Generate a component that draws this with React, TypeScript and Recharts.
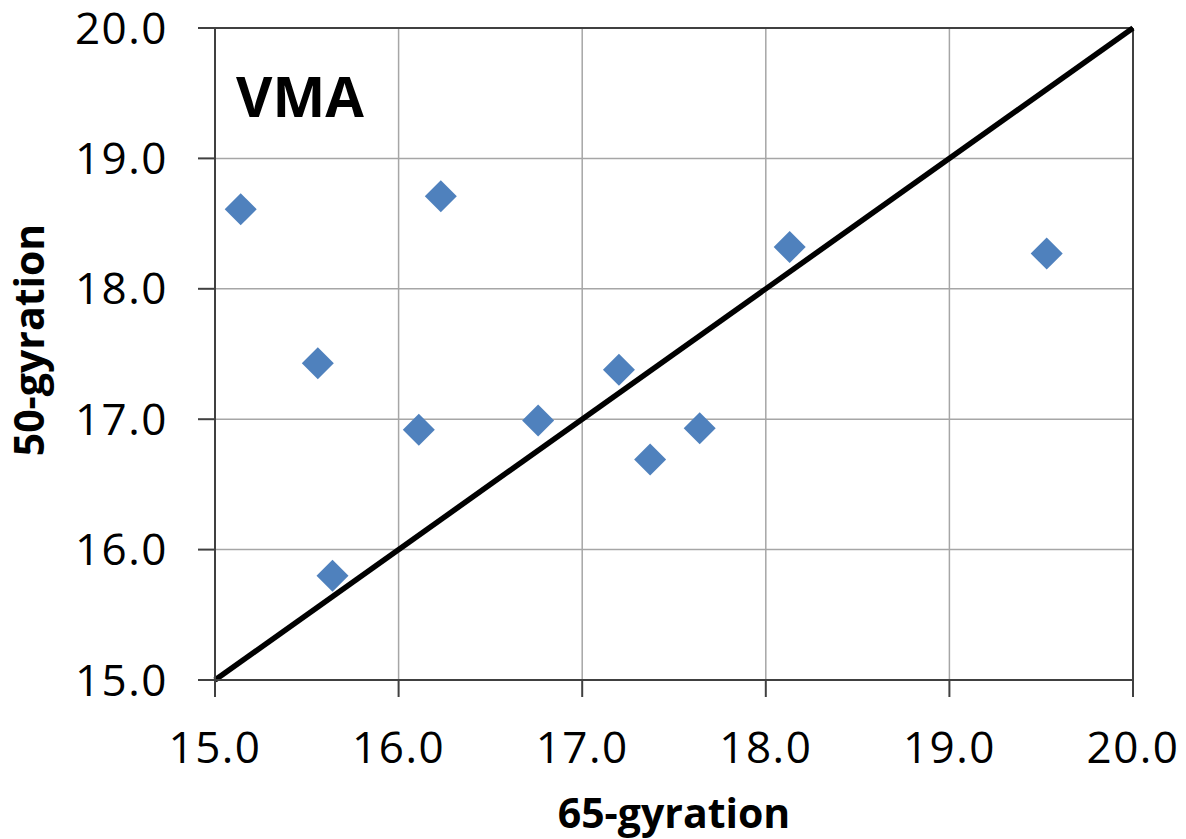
import {
  ScatterChart, Scatter, XAxis, YAxis, CartesianGrid, ReferenceLine, Label,
} from 'recharts';

const gyr65 = [15.14, 16.23, 15.56, 15.64, 16.11, 16.76, 17.2, 17.37, 17.64, 18.13, 19.53];
const gyr50 = [18.61, 18.71, 17.43, 15.8, 16.92, 16.99, 17.38, 16.69, 16.93, 18.32, 18.27];
const ticks = [15, 16, 17, 18, 19, 20];

const points = gyr65.map((x, i) => ({ x, y: gyr50[i] }));

const FONT = '"Open Sans", sans-serif';
const AXIS = '#404040';

function Diamond(props: any) {
  const { cx, cy } = props;
  const r = 16;
  return <polygon points={`${cx},${cy - r} ${cx + r},${cy} ${cx},${cy + r} ${cx - r},${cy}`} fill="#4F81BD" />;
}

export default function App() {
  const tick = { fill: '#000', fontSize: 44, fontFamily: FONT, letterSpacing: 1.5 };
  const title = { fontSize: 41, fontWeight: 700, fontFamily: FONT, fill: '#000' };
  return (
    <div style={{ position: 'absolute', left: 0, top: 0, width: 1186, height: 839, background: '#fff', fontFamily: FONT }}>
      <ScatterChart width={1186} height={839} margin={{ top: 28, right: 53, bottom: 0, left: 0 }}>
        <CartesianGrid stroke="#a6a6a6" strokeWidth={1.5} />
        <XAxis type="number" dataKey="x" domain={[15, 20]} ticks={ticks} height={159}
          tickFormatter={(v: number) => v.toFixed(1)} tick={tick} tickSize={17} tickMargin={35}
          stroke={AXIS} strokeWidth={2} interval={0}>
          <Label value="65-gyration" position="insideBottom" offset={11} style={title} />
        </XAxis>
        <YAxis type="number" dataKey="y" domain={[15, 20]} ticks={ticks} width={215}
          tickFormatter={(v: number) => v.toFixed(1)} tick={tick} tickSize={17} tickMargin={30}
          stroke={AXIS} strokeWidth={2} interval={0}>
          <Label value="50-gyration" angle={-90} position="insideLeft" offset={29} dy={-14}
            style={{ ...title, textAnchor: 'middle' }} />
        </YAxis>
        <ReferenceLine y={20} stroke={AXIS} strokeWidth={2} />
        <ReferenceLine x={20} stroke={AXIS} strokeWidth={2} />
        <ReferenceLine segment={[{ x: 15, y: 15 }, { x: 20, y: 20 }]} stroke="#000" strokeWidth={5.5} />
        <Scatter data={points} shape={<Diamond />} isAnimationActive={false} />
      </ScatterChart>
      <div style={{ position: 'absolute', left: 236, top: 61, fontSize: 56, fontWeight: 700, lineHeight: '68px', color: '#000' }}>
        VMA
      </div>
    </div>
  );
}
